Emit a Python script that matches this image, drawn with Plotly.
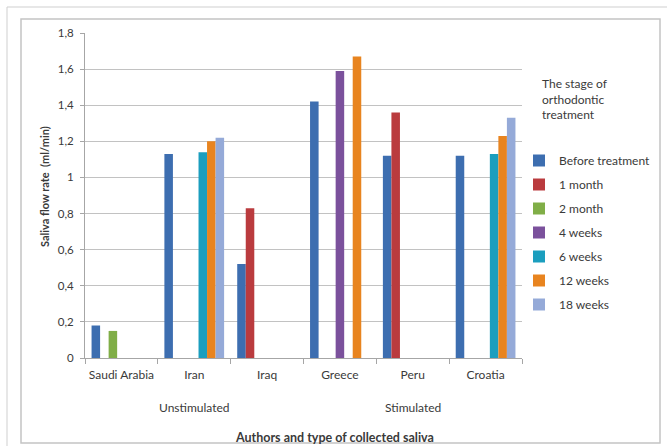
import plotly.graph_objects as go

# Countries (study origin) on the x axis
countries = ["Saudi Arabia", "Iran", "Iraq", "Greece", "Peru", "Croatia"]

# Saliva flow rate (ml/min) per treatment stage; None = not measured
before_treatment = [0.18, 1.13, 0.52, 1.42, 1.12, 1.12]
one_month = [None, None, 0.83, None, 1.36, None]
two_month = [0.15, None, None, None, None, None]
four_weeks = [None, None, None, 1.59, None, None]
six_weeks = [None, 1.14, None, None, None, 1.13]
twelve_weeks = [None, 1.20, None, 1.67, None, 1.23]
eighteen_weeks = [None, 1.22, None, None, None, 1.33]

series_names = ["Before treatment", "1 month", "2 month", "4 weeks",
                "6 weeks", "12 weeks", "18 weeks"]
series_values = [before_treatment, one_month, two_month, four_weeks,
                 six_weeks, twelve_weeks, eighteen_weeks]
series_colors = ["#3d6eb0", "#ba3b3e", "#80ae47", "#7b519c",
                 "#1b9ebe", "#e8841f", "#95aad8"]

# y axis ticks, written with decimal commas
y_tickvals = [0, 0.2, 0.4, 0.6, 0.8, 1.0, 1.2, 1.4, 1.6, 1.8]
y_ticktext = ["0", "0,2", "0,4", "0,6", "0,8", "1", "1,2", "1,4", "1,6", "1,8"]

# saliva collection type, each spanning three countries
saliva_types = ["Unstimulated", "Stimulated"]

W, H = 667, 446
L, R, T, B = 85, 145, 33, 88
PW, PH = W - L - R, H - T - B

def px_x(px):
    return (px - L) / PW

def px_y(py):
    return (H - B - py) / PH

FONT = "Lato, 'Open Sans', sans-serif"
TXT = "#3a3a3a"

fig = go.Figure()
for name, vals, col in zip(series_names, series_values, series_colors):
    fig.add_trace(go.Bar(
        x=countries, y=vals, name=name, marker_color=col,
        marker_line_width=0, legendgroup=name,
    ))

fig.update_layout(
    width=W, height=H,
    margin=dict(l=L, r=R, t=T, b=B, autoexpand=False),
    paper_bgcolor="white", plot_bgcolor="white",
    barmode="group", bargap=0.18, bargroupgap=0,
    font=dict(family=FONT, size=11, color=TXT),
    showlegend=True,
    legend=dict(
        x=px_x(519), y=px_y(146), xanchor="left", yanchor="top",
        traceorder="grouped", tracegroupgap=5,
        font=dict(size=12, color=TXT), bgcolor="rgba(0,0,0,0)",
    ),
    xaxis=dict(
        type="category", range=[-0.5, 5.5], showgrid=False,
        showline=True, linecolor="#a6a6a6", linewidth=1,
        ticks="outside", tickson="boundaries", ticklen=5,
        tickcolor="#a6a6a6", tickfont=dict(size=12, color=TXT),
        tickangle=0, ticklabelstandoff=6, automargin=False,
    ),
    yaxis=dict(
        range=[0, 1.8], tickvals=y_tickvals, ticktext=y_ticktext,
        showgrid=True, gridcolor="#c2c2c2", gridwidth=1,
        showline=True, linecolor="#a6a6a6", linewidth=1,
        ticks="outside", ticklen=4, tickcolor="#a6a6a6",
        tickfont=dict(size=11.5, color=TXT), zeroline=False,
        ticklabelstandoff=4, automargin=False,
    ),
)

annotations = [
    dict(text="<b>Saliva flow rate  (ml/min)</b>", x=px_x(44), y=px_y(187),
         xref="paper", yref="paper", xanchor="center", yanchor="middle",
         textangle=-90, showarrow=False, font=dict(size=11, color=TXT)),
    dict(text="<b>Authors and type of collected saliva</b>", x=px_x(334),
         y=px_y(437), xref="paper", yref="paper", xanchor="center",
         yanchor="middle", showarrow=False, font=dict(size=12.5, color=TXT)),
    dict(text="The stage of<br>orthodontic<br>treatment", x=px_x(540),
         y=px_y(74), xref="paper", yref="paper", xanchor="left",
         yanchor="top", align="left", showarrow=False,
         font=dict(size=12, color=TXT)),
]
# group labels centred under each set of three countries
for i, label in enumerate(saliva_types):
    annotations.append(dict(
        text=label, x=3 * i + 1, y=px_y(408), xref="x", yref="paper",
        xanchor="center", yanchor="middle", showarrow=False,
        font=dict(size=12, color=TXT)))
fig.update_layout(annotations=annotations)

# chart frames
fig.add_shape(type="rect", xref="paper", yref="paper",
              x0=px_x(7), y0=px_y(470), x1=px_x(700), y1=px_y(7),
              line=dict(color="#cfcfcf", width=1), layer="below")
fig.add_shape(type="rect", xref="paper", yref="paper",
              x0=px_x(21), y0=px_y(443), x1=px_x(660), y1=px_y(19),
              line=dict(color="#c4c4c4", width=1.5), layer="below")

fig.write_html("out.html")
